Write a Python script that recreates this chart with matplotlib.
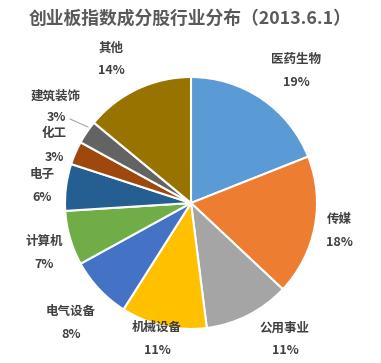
import matplotlib.pyplot as plt

plt.rcParams['font.family'] = ['Noto Sans CJK SC', 'DejaVu Sans']

# data
industries = ['医药生物', '传媒', '公用事业', '机械设备', '电气设备',
              '计算机', '电子', '化工', '建筑装饰', '其他']
shares = [19, 18, 11, 11, 8, 7, 6, 3, 3, 14]
colors = ['#5B9BD5', '#ED7D31', '#A5A5A5', '#FFC000', '#4472C4',
          '#70AD47', '#255E91', '#9E480E', '#636363', '#997300']

# label centres in pixels (x, y from top)
label_pos = [(296, 59), (339, 219), (285, 328), (157, 327), (71, 311),
             (44, 241), (42, 174), (54, 134), (56, 96), (111, 48)]

W, H = 381, 363
fig = plt.figure(figsize=(W / 100, H / 100), dpi=100)

cx, cy, r = 191, 203, 126
ax = fig.add_axes([(cx - r) / W, (H - cy - r) / H, 2 * r / W, 2 * r / H])
ax.pie(shares, colors=colors, startangle=90, counterclock=False,
       wedgeprops=dict(edgecolor='white', linewidth=1.5))
ax.set_xlim(-1, 1)
ax.set_ylim(-1, 1)
ax.set_aspect('auto')
ax.axis('off')

txt = '#404040'
for i, (name, val, (px, py)) in enumerate(zip(industries, shares, label_pos)):
    gap = 22 if name == '建筑装饰' else 23
    fig.text(px / W, 1 - py / H, name, ha='center', va='center',
             fontsize=9, fontweight='bold', color=txt)
    fig.text(px / W, 1 - (py + gap) / H, f'{val}%', ha='center', va='center',
             fontsize=9, fontweight='bold', color=txt)

# leader line for the small 建筑装饰 slice
fig.add_artist(plt.Line2D([70 / W, 88 / W], [1 - 119 / H, 1 - 127 / H],
                          color='#A6A6A6', linewidth=0.8))

fig.text(0.5, 1 - 19 / H, '创业板指数成分股行业分布（2013.6.1）', ha='center',
         va='center', fontsize=12.8, fontweight='bold', color='#595959')

fig.savefig('out.png', dpi=100, facecolor='white')
